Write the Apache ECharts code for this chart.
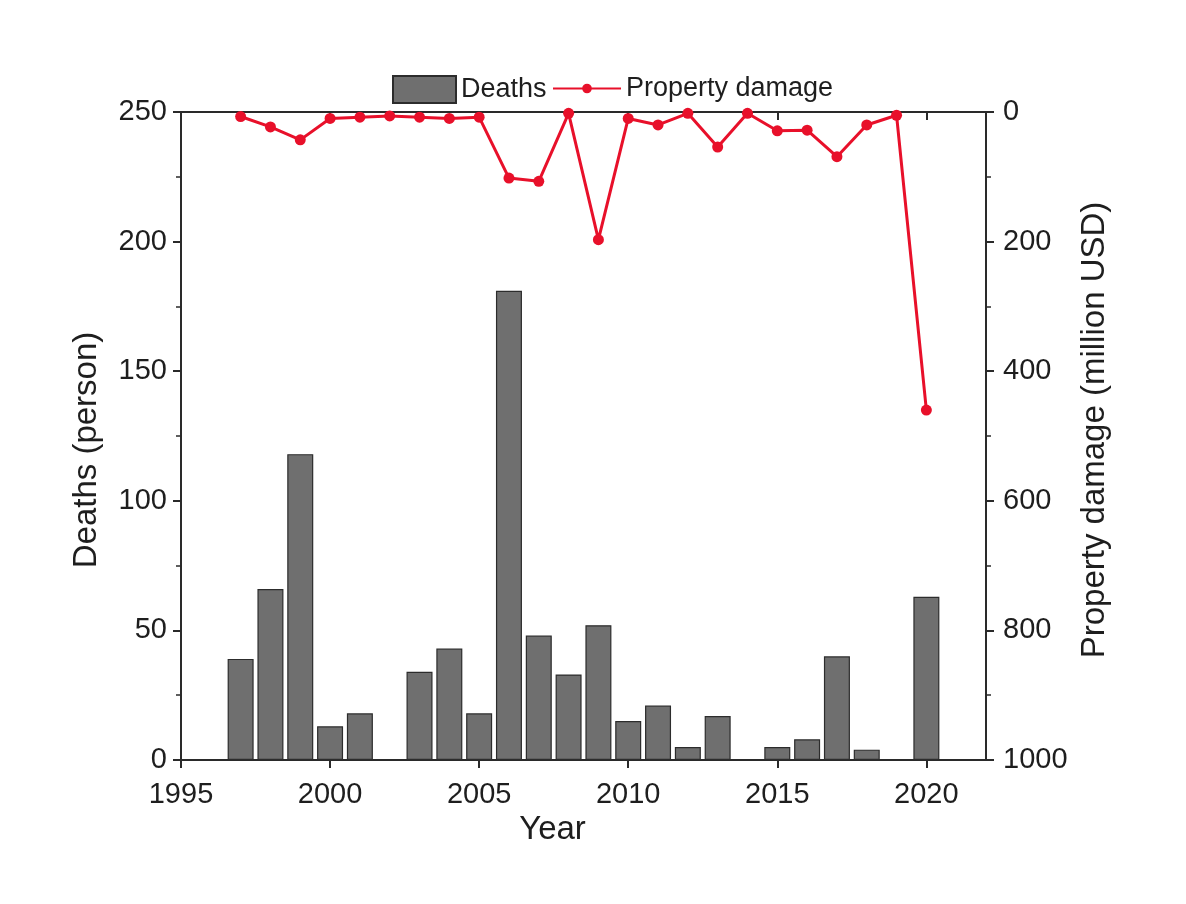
<!DOCTYPE html>
<html>
<head>
<meta charset="utf-8">
<script src="https://cdn.jsdelivr.net/npm/echarts@6/dist/echarts.min.js"></script>
<style>
  html, body { margin: 0; padding: 0; background: #ffffff; }
  #chart { width: 1186px; height: 904px; }
</style>
</head>
<body>
<div id="chart"></div>
<script>
// Annual tornado toll: deaths (bars, left axis) and property damage (line, inverted right axis)
const years = [1997, 1998, 1999, 2000, 2001, 2002, 2003, 2004, 2005, 2006, 2007, 2008,
               2009, 2010, 2011, 2012, 2013, 2014, 2015, 2016, 2017, 2018, 2019, 2020];
const deaths = [39, 66, 118, 13, 18, null, 34, 43, 18, 181, 48, 33,
                52, 15, 21, 5, 17, null, 5, 8, 40, 4, null, 63];
const propertyDamage = [7, 23, 43, 10, 8, 6, 8, 10, 8, 102, 107, 2,
                        197, 10, 20, 2, 54, 2, 29, 28, 69, 20, 5, 460];

const xRange = { min: 1995, max: 2022, interval: 5 };
const deathsRange = { min: 0, max: 250, interval: 50 };
const damageRange = { min: 0, max: 1000, interval: 200 };

const FONT = 'Liberation Sans';
const AXIS_COLOR = '#2a2a2a';
const TEXT_COLOR = '#1e1e1e';
const LINE_COLOR = '#e8102a';

const chart = echarts.init(document.getElementById('chart'));

const axisLine = { show: true, onZero: false, lineStyle: { color: AXIS_COLOR, width: 2 } };
const tickLabel = { fontFamily: FONT, fontSize: 29, color: TEXT_COLOR };
const titleStyle = { fontFamily: FONT, fontSize: 33, color: TEXT_COLOR };
const legendText = { fontFamily: FONT, fontSize: 27, color: TEXT_COLOR };

chart.setOption({
  backgroundColor: '#ffffff',
  animation: false,
  textStyle: { fontFamily: FONT },
  legend: [
    {
      left: 392, top: 75, padding: 0,
      itemWidth: 63, itemHeight: 27,
      textStyle: legendText,
      data: [{ name: 'Deaths', icon: 'rect' }]
    },
    {
      left: 552, top: 75, padding: 0,
      itemWidth: 68, itemHeight: 12,
      textStyle: legendText,
      data: [{ name: 'Property damage' }]
    }
  ],
  grid: { left: 181, right: 200, top: 112, bottom: 144, containLabel: false },
  xAxis: [
    {
      type: 'value',
      min: xRange.min, max: xRange.max, interval: xRange.interval,
      name: 'Year', nameLocation: 'middle', nameGap: 52,
      nameTextStyle: Object.assign({ padding: [0, 62, 0, 0] }, titleStyle),
      axisLine: axisLine,
      axisTick: { show: true, inside: false, length: 8, lineStyle: { color: AXIS_COLOR, width: 2 } },
      axisLabel: Object.assign({ margin: 20, showMaxLabel: false,
        formatter: v => (v % 5 === 0 ? String(v) : '') }, tickLabel),
      splitLine: { show: false }
    },
    {
      type: 'value',
      position: 'top',
      min: xRange.min, max: xRange.max, interval: xRange.interval,
      axisLine: axisLine,
      axisTick: { show: true, inside: true, length: 8, lineStyle: { color: AXIS_COLOR, width: 2 } },
      axisLabel: { show: false },
      splitLine: { show: false }
    }
  ],
  yAxis: [
    {
      type: 'value',
      position: 'left',
      min: deathsRange.min, max: deathsRange.max, interval: deathsRange.interval,
      name: 'Deaths (person)', nameLocation: 'middle', nameGap: 78,
      nameTextStyle: Object.assign({ padding: [0, 28, 0, 0] }, titleStyle),
      axisLine: axisLine,
      axisTick: { show: true, inside: false, length: 8, lineStyle: { color: AXIS_COLOR, width: 2 } },
      minorTick: { show: true, splitNumber: 2, length: 5, lineStyle: { color: AXIS_COLOR, width: 1.5 } },
      axisLabel: Object.assign({ margin: 14 }, tickLabel),
      splitLine: { show: false }
    },
    {
      type: 'value',
      position: 'right',
      inverse: true,
      min: damageRange.min, max: damageRange.max, interval: damageRange.interval,
      name: 'Property damage (million USD)', nameLocation: 'middle', nameGap: 86,
      nameRotate: 90,
      nameTextStyle: Object.assign({ padding: [0, 0, 0, 12] }, titleStyle),
      axisLine: axisLine,
      axisTick: { show: true, inside: false, length: 8, lineStyle: { color: AXIS_COLOR, width: 2 } },
      minorTick: { show: true, splitNumber: 2, length: 5, lineStyle: { color: AXIS_COLOR, width: 1.5 } },
      axisLabel: Object.assign({ margin: 17, formatter: v => String(v) }, tickLabel),
      splitLine: { show: false }
    }
  ],
  series: [
    {
      name: 'Deaths',
      type: 'bar',
      xAxisIndex: 0,
      yAxisIndex: 0,
      barWidth: 26,
      itemStyle: { color: '#6f6f6f', borderColor: '#2c2c2c', borderWidth: 1.2 },
      data: years.map((y, i) => [y, deaths[i]])
    },
    {
      name: 'Property damage',
      type: 'line',
      xAxisIndex: 0,
      yAxisIndex: 1,
      symbol: 'circle',
      symbolSize: 11,
      clip: false,
      z: 5,
      lineStyle: { color: LINE_COLOR, width: 3 },
      itemStyle: { color: LINE_COLOR },
      data: years.map((y, i) => [y, propertyDamage[i]])
    }
  ]
});
</script>
</body>
</html>
